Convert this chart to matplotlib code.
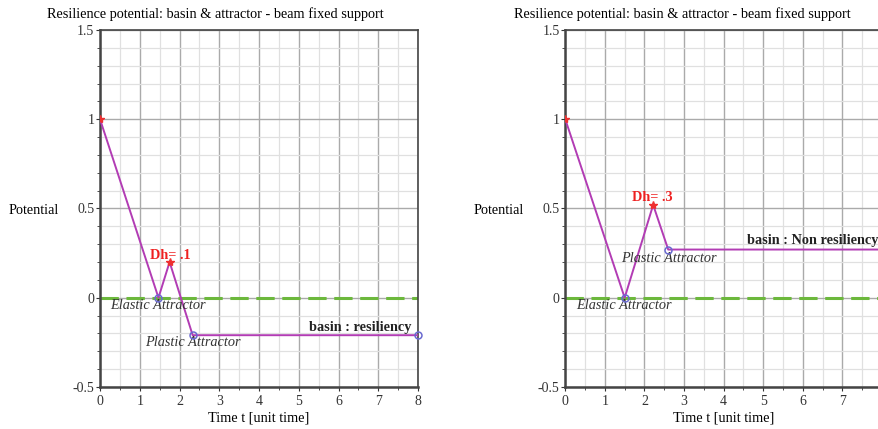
import matplotlib

matplotlib.use("Agg")
import matplotlib.pyplot as plt
from matplotlib.ticker import MultipleLocator

plt.rcParams["font.family"] = ["Liberation Serif", "DejaVu Serif"]

# path points: start, elastic attractor, Dh peak, plastic attractor, end of basin
t_left = [0.0, 1.47, 1.75, 2.33, 8.0]
pot_left = [1.0, 0.0, 0.2, -0.21, -0.21]
t_right = [0.0, 1.5, 2.22, 2.6, 8.0]
pot_right = [1.0, 0.0, 0.52, 0.27, 0.27]

dh_labels = ["Dh= .1", "Dh= .3"]
basin_labels = ["basin : resiliency", "basin : Non resiliency"]
title = "Resilience potential: basin & attractor - beam fixed support"

PURPLE = "#b23cb4"
GREEN = "#6cb83c"
CIRCLE = "#6a6ad0"
FS = 10.3

fig = plt.figure(figsize=(8.79, 4.29), dpi=100)
ax1 = fig.add_axes([0.1138, 0.098, 0.3618, 0.832])
ax2 = fig.add_axes([0.6431, 0.098, 0.3603, 0.832])


def draw_panel(ax, t, pot, title_x):
    ax.set_xlim(0, 8)
    ax.set_ylim(-0.5, 1.5)
    ax.xaxis.set_major_locator(MultipleLocator(1))
    ax.xaxis.set_minor_locator(MultipleLocator(0.5))
    ax.yaxis.set_major_locator(MultipleLocator(0.5))
    ax.yaxis.set_minor_locator(MultipleLocator(0.1))
    ax.set_yticks([-0.5, 0, 0.5, 1, 1.5])
    ax.set_yticklabels(["-0.5", "0", "0.5", "1", "1.5"])
    ax.grid(which="major", color="#aaaaaa", lw=1.0)
    ax.grid(which="minor", color="#e0e0e0", lw=0.9)
    ax.set_axisbelow(True)
    ax.tick_params(which="both", direction="out", labelsize=10, colors="#333333")
    ax.tick_params(which="major", length=3, pad=1)
    ax.tick_params(axis="x", which="major", pad=3)
    ax.tick_params(which="minor", length=2)
    for s in ax.spines.values():
        s.set_color("#444444")
        s.set_linewidth(1.2)
    ax.spines["left"].set_linewidth(1.8)
    ax.spines["bottom"].set_linewidth(1.8)

    ax.axhline(0, color=GREEN, lw=2.2, ls=(0, (6, 2.5)), zorder=2)
    ax.plot(t, pot, color=PURPLE, lw=1.4, zorder=3)
    ax.plot([t[0], t[2]], [pot[0], pot[2]], ls="none", marker="*", ms=6,
            color="#ee3030", zorder=4)
    ax.plot([t[1], t[3], t[4]], [pot[1], pot[3], pot[4]], ls="none", marker="o",
            ms=5, mfc="none", mec=CIRCLE, mew=1.1, zorder=4, clip_on=False)

    ax.text(title_x, 1.045, title, transform=ax.transAxes, ha="center",
            va="center", fontsize=FS)
    ax.set_xlabel("Time t [unit time]", fontsize=FS, labelpad=2)
    ax.text(-0.21, 0.49, "Potential", transform=ax.get_yaxis_transform(),
            ha="center", va="center", fontsize=FS)


draw_panel(ax1, t_left, pot_left, 0.362)
draw_panel(ax2, t_right, pot_right, 0.368)

# left panel annotations
ax1.text(1.76, 0.235, dh_labels[0], color="#ee2020", fontweight="bold",
         fontsize=FS, ha="center", va="center")
ax1.text(0.25, -0.045, "Elastic Attractor", style="italic", fontsize=FS,
         ha="left", va="center", color="#333333")
ax1.text(1.13, -0.25, "Plastic Attractor", style="italic", fontsize=FS,
         ha="left", va="center", color="#333333")
ax1.text(7.82, -0.165, basin_labels[0], fontweight="bold", fontsize=FS,
         ha="right", va="center", color="#222222")

# right panel annotations
ax2.text(2.21, 0.56, dh_labels[1], color="#ee2020", fontweight="bold",
         fontsize=FS, ha="center", va="center")
ax2.text(1.41, 0.22, "Plastic Attractor", style="italic", fontsize=FS,
         ha="left", va="center", color="#333333")
ax2.text(0.27, -0.045, "Elastic Attractor", style="italic", fontsize=FS,
         ha="left", va="center", color="#333333")
ax2.text(4.59, 0.32, basin_labels[1], fontweight="bold", fontsize=FS,
         ha="left", va="center", color="#222222")

fig.savefig("out.png", dpi=100)
